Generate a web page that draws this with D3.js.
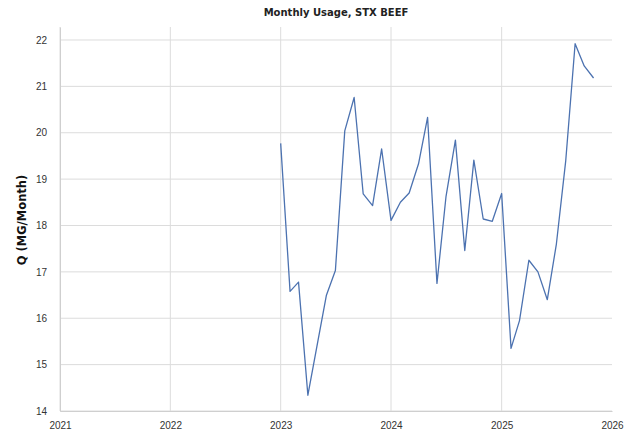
<!DOCTYPE html>
<html>
<head>
<meta charset="utf-8">
<script src="https://cdn.jsdelivr.net/npm/d3@7"></script>
<style>
  body { margin: 0; background: #fff; }
  svg { font-family: "DejaVu Sans", sans-serif; }
</style>
</head>
<body>
<div id="chart"></div>
<script>
// monthly usage, Jan 2023 .. Nov 2025
const months = [
  "2023-01","2023-02","2023-03","2023-04","2023-05","2023-06","2023-07","2023-08","2023-09","2023-10","2023-11","2023-12",
  "2024-01","2024-02","2024-03","2024-04","2024-05","2024-06","2024-07","2024-08","2024-09","2024-10","2024-11","2024-12",
  "2025-01","2025-02","2025-03","2025-04","2025-05","2025-06","2025-07","2025-08","2025-09","2025-10","2025-11"
];
const usage = [
  19.77, 16.58, 16.78, 14.34, 15.4, 16.49, 17.03, 20.04, 20.76, 18.68, 18.43, 19.65,
  18.11, 18.5, 18.7, 19.33, 20.33, 16.75, 18.63, 19.84, 17.46, 19.41, 18.14, 18.09,
  18.69, 15.35, 15.95, 17.25, 17.0, 16.4, 17.6, 19.4, 21.92, 21.44, 21.18
];
const yTicks = [14, 15, 16, 17, 18, 19, 20, 21, 22];
const xTicks = [2021, 2022, 2023, 2024, 2025, 2026];

const W = 628, H = 438;
const margin = { top: 27, right: 16, bottom: 27, left: 60 };
const width = W - margin.left - margin.right;
const height = H - margin.top - margin.bottom;

const parse = d3.timeParse("%Y-%m");
const data = months.map((m, i) => ({ date: parse(m), value: usage[i] }));

const svg = d3.select("#chart").append("svg")
  .attr("width", W)
  .attr("height", H);

const g = svg.append("g")
  .attr("transform", `translate(${margin.left},${margin.top})`);

const x = d3.scaleTime()
  .domain([new Date(2021, 0, 1), new Date(2026, 0, 1)])
  .range([0, width]);
const y = d3.scaleLinear()
  .domain([14, 22.28])
  .range([height, 0]);

// grid
g.append("g")
  .selectAll("line.h")
  .data(yTicks)
  .enter().append("line")
  .attr("x1", 0).attr("x2", width)
  .attr("y1", d => y(d)).attr("y2", d => y(d))
  .attr("stroke", "#dcdcdc").attr("stroke-width", 1);

g.append("g")
  .selectAll("line.v")
  .data(xTicks.slice(0, -1))
  .enter().append("line")
  .attr("x1", d => x(new Date(d, 0, 1))).attr("x2", d => x(new Date(d, 0, 1)))
  .attr("y1", 0).attr("y2", height)
  .attr("stroke", "#dcdcdc").attr("stroke-width", 1);

// axes
const xAxis = d3.axisBottom(x)
  .tickValues(xTicks.map(d => new Date(d, 0, 1)))
  .tickFormat(d3.timeFormat("%Y"))
  .tickSize(0).tickPadding(11);
const yAxis = d3.axisLeft(y)
  .tickValues(yTicks)
  .tickSize(0).tickPadding(13);

g.append("g")
  .attr("transform", `translate(0,${height})`)
  .call(xAxis)
  .call(a => a.select(".domain").attr("stroke", "#cfcfcf"))
  .selectAll("text")
  .style("font-size", "10px").attr("fill", "#333");

g.append("g")
  .call(yAxis)
  .call(a => a.select(".domain").attr("stroke", "#cfcfcf"))
  .selectAll("text")
  .style("font-size", "10px").attr("fill", "#333");

// line
const line = d3.line()
  .x(d => x(d.date))
  .y(d => y(d.value));

g.append("path")
  .datum(data)
  .attr("fill", "none")
  .attr("stroke", "#4c72b0")
  .attr("stroke-width", 1.3)
  .attr("stroke-linejoin", "round")
  .attr("d", line);

// title
svg.append("text")
  .attr("x", margin.left + width / 2)
  .attr("y", 16)
  .attr("text-anchor", "middle")
  .style("font-size", "10px")
  .style("font-weight", "bold")
  .attr("fill", "#222")
  .text("Monthly Usage, STX BEEF");

// y label
svg.append("text")
  .attr("transform", `translate(26,220) rotate(-90)`)
  .attr("text-anchor", "middle")
  .style("font-size", "11.5px")
  .style("font-weight", "bold")
  .attr("fill", "#111")
  .text("Q (MG/Month)");
</script>
</body>
</html>
